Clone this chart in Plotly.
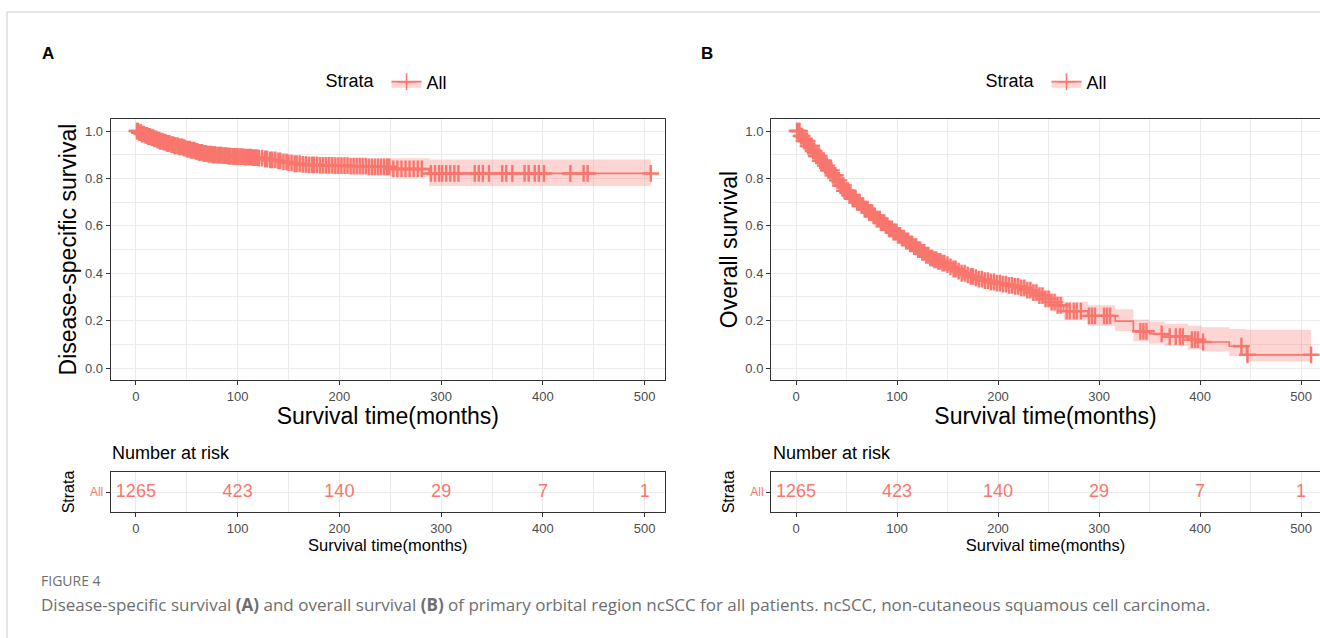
import numpy as np
import plotly.graph_objects as go

RED = "#F8766D"
PINK = "rgba(248,118,109,0.30)"
FONT = "Liberation Sans"

# ---------------- Panel A: disease-specific survival ----------------
dss_time = [0, 3, 6, 9, 12, 15, 18, 21, 24, 27, 30, 34, 38, 42, 46, 50, 54, 58, 62, 66, 70, 75, 80, 85, 90, 95,
            100, 107, 114, 120, 126, 132, 138, 144, 150, 156, 162, 168, 180, 194, 210, 227, 250, 288, 506]
dss_surv = [1.0, 0.993, 0.987, 0.982, 0.977, 0.972, 0.967, 0.962, 0.957, 0.953, 0.948, 0.943, 0.938, 0.933, 0.929,
            0.924, 0.919, 0.914, 0.91, 0.906, 0.903, 0.9, 0.898, 0.896, 0.894, 0.893, 0.892, 0.89, 0.888, 0.886,
            0.882, 0.878, 0.874, 0.87, 0.866, 0.862, 0.859, 0.857, 0.855, 0.854, 0.852, 0.849, 0.84, 0.821, 0.821]
dss_upper = [1.0, 0.998, 0.994, 0.99, 0.986, 0.982, 0.978, 0.974, 0.97, 0.966, 0.962, 0.958, 0.953, 0.949, 0.945,
             0.941, 0.936, 0.932, 0.928, 0.925, 0.922, 0.92, 0.918, 0.917, 0.916, 0.915, 0.914, 0.913, 0.912, 0.91,
             0.907, 0.904, 0.901, 0.898, 0.895, 0.892, 0.89, 0.889, 0.888, 0.887, 0.886, 0.884, 0.885, 0.88, 0.88]
dss_lower = [1.0, 0.988, 0.98, 0.974, 0.968, 0.962, 0.956, 0.95, 0.944, 0.94, 0.934, 0.928, 0.923, 0.917, 0.913,
             0.907, 0.902, 0.896, 0.892, 0.887, 0.884, 0.88, 0.878, 0.875, 0.872, 0.871, 0.87, 0.867, 0.864, 0.862,
             0.857, 0.852, 0.847, 0.842, 0.837, 0.832, 0.828, 0.825, 0.822, 0.82, 0.818, 0.814, 0.805, 0.768, 0.768]
dss_censor = [1, 2, 3.5, 5, 6, 8, 9.5, 11, 12, 14, 15.5, 17, 18, 20, 21.5, 23, 24, 26, 27.5, 29, 30.5, 32, 33, 35,
              36.5, 38, 39, 41, 42.5, 44, 45.5, 47, 48, 50, 51.5, 53, 54, 56, 57.5, 59, 60.5, 62, 63, 65, 66.5, 68,
              69, 71, 72.5, 74, 75.5, 77, 78, 80, 81.5, 83, 84, 86, 87.5, 89, 90.5, 92, 93, 95, 96.5, 98, 99.5, 101,
              103, 105, 107, 109, 111, 113, 115, 117, 119, 121, 124, 127, 129, 132, 134, 137, 140, 142, 145, 148,
              150, 153, 156, 158, 161, 164, 167, 170, 173, 175, 178, 181, 184, 187, 190, 193, 196, 199, 202, 205,
              208, 211, 214, 217, 220, 223, 226, 229, 232, 235, 238, 241, 244, 247, 249,
              253, 257, 261, 265, 269, 273, 277, 281, 290, 294, 298, 301, 305, 309, 313, 317, 333, 337, 341, 347,
              360, 364, 370, 382, 386, 392, 396, 401, 427, 440, 444, 506]

# ---------------- Panel B: overall survival ----------------
os_time = [0, 4, 8, 12, 16, 20, 24, 28, 32, 36, 40, 44, 48, 52, 56, 60, 64, 68, 72, 76, 80, 84, 88, 92, 96, 100,
           104, 108, 112, 116, 120, 124, 128, 132, 136, 140, 144, 148, 152, 156, 160, 164, 168, 172, 176, 180, 186,
           192, 198, 204, 210, 216, 222, 228, 234, 240, 246, 252, 258, 265, 289, 316, 334, 350, 365, 388, 402, 429,
           446, 510]
os_surv = [1.0, 0.979, 0.958, 0.937, 0.916, 0.895, 0.875, 0.854, 0.834, 0.813,
           0.792, 0.77, 0.748, 0.729, 0.714, 0.7, 0.685, 0.67, 0.656, 0.642,
           0.628, 0.614, 0.601, 0.587, 0.574, 0.56, 0.548, 0.536, 0.524, 0.512,
           0.5, 0.488, 0.476, 0.464, 0.457, 0.45, 0.443, 0.436, 0.427, 0.418,
           0.409, 0.4, 0.393, 0.387, 0.381, 0.375, 0.369, 0.363, 0.358, 0.354,
           0.349, 0.345, 0.338, 0.329, 0.318, 0.306, 0.292, 0.278, 0.265, 0.24,
           0.22, 0.198, 0.155, 0.144, 0.133, 0.12, 0.11, 0.092, 0.056, 0.056]
os_upper = [1.0, 0.987, 0.969, 0.95, 0.931, 0.911, 0.892, 0.872, 0.852, 0.832,
            0.812, 0.79, 0.769, 0.75, 0.735, 0.721, 0.707, 0.692, 0.678, 0.665,
            0.651, 0.637, 0.624, 0.611, 0.598, 0.585, 0.573, 0.561, 0.549, 0.538,
            0.526, 0.514, 0.502, 0.491, 0.484, 0.477, 0.47, 0.463, 0.454, 0.446,
            0.437, 0.428, 0.421, 0.415, 0.41, 0.404, 0.398, 0.393, 0.388, 0.384,
            0.38, 0.376, 0.37, 0.361, 0.351, 0.34, 0.327, 0.313, 0.301, 0.28,
            0.265, 0.248, 0.205, 0.196, 0.187, 0.178, 0.172, 0.165, 0.162, 0.162]
os_lower = [1.0, 0.971, 0.947, 0.924, 0.901, 0.879, 0.858, 0.836, 0.816, 0.794,
            0.772, 0.75, 0.727, 0.708, 0.693, 0.679, 0.663, 0.648, 0.634, 0.619,
            0.605, 0.591, 0.578, 0.563, 0.55, 0.535, 0.523, 0.511, 0.499, 0.486,
            0.474, 0.462, 0.45, 0.437, 0.43, 0.423, 0.416, 0.409, 0.4, 0.39,
            0.381, 0.372, 0.365, 0.359, 0.352, 0.346, 0.34, 0.333, 0.328, 0.324,
            0.318, 0.314, 0.306, 0.297, 0.285, 0.272, 0.257, 0.243, 0.229, 0.203,
            0.178, 0.155, 0.113, 0.103, 0.093, 0.078, 0.07, 0.05, 0.028, 0.028]
os_censor = [1, 2, 3.5, 5, 6, 8, 9.5, 11, 12, 14, 15.5, 17, 18, 20, 21.5, 23, 24, 26, 27.5, 29, 30.5, 32, 33, 35,
             36.5, 38, 39, 41, 42.5, 44, 45.5, 47, 48, 50, 51.5, 53, 54, 56, 57.5, 59, 60.5, 62, 63, 65, 66.5, 68,
             69, 71, 72.5, 74, 75.5, 77, 78, 80, 81.5, 83, 84, 86, 87.5, 89, 90.5, 92, 93, 95, 96.5, 98, 99.5, 101,
             103, 105, 107, 109, 111, 113, 115, 117, 119, 121, 123, 125, 127, 129, 131, 133, 135, 137, 139, 141,
             143, 145, 147, 150, 153, 156, 158, 161, 164, 167, 170, 173, 175, 178, 181, 184, 187, 190, 193, 196,
             199, 202, 205, 208, 211, 214, 217, 220, 223, 226, 229, 232, 235, 238, 241, 244, 247, 250, 253, 256,
             259, 262, 268, 271, 275, 278, 282, 290, 293, 296, 305, 308, 311, 341, 344, 347, 362, 370, 376, 380,
             383, 392, 395, 398, 403, 441, 447, 510]

# ---------------- Risk tables ----------------
risk_times = [0, 100, 200, 300, 400, 500]
dss_risk = [1265, 423, 140, 29, 7, 1]
os_risk = [1265, 423, 140, 29, 7, 1]

x_ticks = [0, 100, 200, 300, 400, 500]
y_ticks = [0.0, 0.2, 0.4, 0.6, 0.8, 1.0]


def step_value(times, surv, t):
    idx = np.searchsorted(np.array(times), np.array(t), side="right") - 1
    return np.array(surv)[idx]


W, H = 1320, 638


def px(x):
    return x / W


def py(y):
    return 1 - y / H


fig = go.Figure()


def add_km(times, surv, upper, lower, censor, xa, ya, leg):
    fig.add_trace(go.Scatter(x=times, y=lower, mode="lines", line=dict(width=0, shape="hv", color=RED),
                             showlegend=False, hoverinfo="skip", xaxis=xa, yaxis=ya))
    fig.add_trace(go.Scatter(x=times, y=upper, mode="lines", line=dict(width=0, shape="hv", color=RED),
                             fill="tonexty", fillcolor=PINK, showlegend=False, hoverinfo="skip",
                             xaxis=xa, yaxis=ya))
    fig.add_trace(go.Scatter(x=times, y=surv, mode="lines", line=dict(width=1.7, shape="hv", color=RED),
                             showlegend=False, xaxis=xa, yaxis=ya))
    fig.add_trace(go.Scatter(x=censor, y=step_value(times, surv, censor), mode="markers",
                             marker=dict(symbol="cross-thin", size=12, color=RED, line=dict(width=2.4, color=RED)),
                             showlegend=False, xaxis=xa, yaxis=ya))
    # legend entry
    fig.add_trace(go.Scatter(x=[None], y=[None], mode="lines+markers", name="All",
                             line=dict(width=1.7, color=RED), fill="toself", fillcolor=PINK,
                             marker=dict(symbol="cross-thin", size=12, color=RED, line=dict(width=1.5, color=RED)),
                             showlegend=True, legend=leg, xaxis=xa, yaxis=ya))


add_km(dss_time, dss_surv, dss_upper, dss_lower, dss_censor, "x", "y", "legend")
add_km(os_time, os_surv, os_upper, os_lower, os_censor, "x2", "y2", "legend2")

fig.add_trace(go.Scatter(x=risk_times, y=[1] * len(risk_times), mode="text", text=[str(v) for v in dss_risk],
                         textfont=dict(size=18, color=RED, family=FONT), showlegend=False, xaxis="x3", yaxis="y3"))
fig.add_trace(go.Scatter(x=risk_times, y=[1] * len(risk_times), mode="text", text=[str(v) for v in os_risk],
                         textfont=dict(size=18, color=RED, family=FONT), showlegend=False, xaxis="x4", yaxis="y4"))

GRID = "#EBEBEB"
LINE = "#333333"
TICKF = dict(size=13, color="#4D4D4D", family=FONT)

A_dom = [px(110.7), px(665)]
B_dom = [px(771), 1.0]
main_y_dom = [py(379.9), py(119.2)]
risk_y_dom = [py(512), py(472)]
A_range = [-24.75, 520]
B_range = [-24.75, 518.8]


def xaxis(dom, rng, anchor, title, tsize, standoff):
    return dict(domain=dom, range=rng, anchor=anchor, tickvals=x_ticks, ticks="outside", ticklen=4,
                tickcolor=LINE, tickfont=TICKF, showgrid=True, gridcolor=GRID, gridwidth=1.2,
                minor=dict(dtick=50, tick0=0, showgrid=True, gridcolor=GRID, gridwidth=0.7),
                showline=True, mirror=True, linecolor=LINE, linewidth=1, zeroline=False,
                title=dict(text=title, font=dict(size=tsize, color="black", family=FONT), standoff=standoff))


def yaxis_main(anchor, title):
    return dict(domain=main_y_dom, range=[-0.05, 1.05], anchor=anchor, tickvals=y_ticks, tickformat=".1f",
                ticks="outside", ticklen=4, tickcolor=LINE, tickfont=TICKF, showgrid=True, gridcolor=GRID,
                gridwidth=1.2, minor=dict(dtick=0.1, tick0=0, showgrid=True, gridcolor=GRID, gridwidth=0.7),
                showline=True, mirror=True, linecolor=LINE, linewidth=1, zeroline=False,
                title=dict(text=title, font=dict(size=23, color="black", family=FONT), standoff=1))


def yaxis_risk(anchor):
    return dict(domain=risk_y_dom, range=[0.5, 1.5], anchor=anchor, tickvals=[1], ticktext=["All"],
                ticks="outside", ticklen=4, tickcolor=LINE, tickfont=dict(size=12, color=RED, family=FONT),
                showgrid=True, gridcolor=GRID, gridwidth=1.2, showline=True, mirror=True, linecolor=LINE,
                linewidth=1, zeroline=False,
                title=dict(text="Strata", font=dict(size=16, color="black", family=FONT), standoff=11))


legend_common = dict(orientation="h", yanchor="middle", xanchor="center", itemwidth=30,
                     bgcolor="rgba(0,0,0,0)", font=dict(size=18, color="black", family=FONT),
                     title=dict(text="Strata ", side="left", font=dict(size=18, color="black", family=FONT)))

fig.update_layout(
    width=W, height=H, margin=dict(l=0, r=0, t=0, b=0), paper_bgcolor="white", plot_bgcolor="white",
    font=dict(family=FONT),
    xaxis=xaxis(A_dom, A_range, "y", "Survival time(months)", 23, 4),
    yaxis=yaxis_main("x", "Disease-specific survival"),
    xaxis2=xaxis(B_dom, B_range, "y2", "Survival time(months)", 23, 4),
    yaxis2=yaxis_main("x2", "Overall survival"),
    xaxis3=xaxis(A_dom, A_range, "y3", "Survival time(months)", 16.5, 2),
    yaxis3=yaxis_risk("x3"),
    xaxis4=xaxis(B_dom, B_range, "y4", "Survival time(months)", 16.5, 2),
    yaxis4=yaxis_risk("x4"),
    legend=dict(x=px(388), y=py(82), **legend_common),
    legend2=dict(x=px(1048), y=py(82), **legend_common),
    showlegend=True,
)

# outer frame
fig.add_shape(type="rect", xref="paper", yref="paper", x0=px(7), x1=1.02, y0=-0.05, y1=py(12),
              line=dict(color="#CCCCCC", width=1), fillcolor="rgba(0,0,0,0)", layer="below")

ann = []
ann.append(dict(text="<b>A</b>", x=px(40), y=py(53), xanchor="left", yanchor="middle",
                font=dict(size=17, color="black", family=FONT)))
ann.append(dict(text="<b>B</b>", x=px(699), y=py(53), xanchor="left", yanchor="middle",
                font=dict(size=17, color="black", family=FONT)))
ann.append(dict(text="Number at risk", x=px(110), y=py(453), xanchor="left", yanchor="middle",
                font=dict(size=18, color="black", family=FONT)))
ann.append(dict(text="Number at risk", x=px(771), y=py(453), xanchor="left", yanchor="middle",
                font=dict(size=18, color="black", family=FONT)))
ann.append(dict(text="FIGURE 4", x=px(39), y=py(580), xanchor="left", yanchor="middle",
                font=dict(size=14, color="#6E6E6E", family="Open Sans")))
ann.append(dict(text="Disease-specific survival <b>(A)</b> and overall survival <b>(B)</b> of primary orbital "
                     "region ncSCC for all patients. ncSCC, non-cutaneous squamous cell carcinoma.",
                x=px(39), y=py(604), xanchor="left", yanchor="middle",
                font=dict(size=17, color="#6E6E6E", family="Open Sans")))
for a in ann:
    a.update(xref="paper", yref="paper", showarrow=False)
fig.update_layout(annotations=ann)

fig.write_html("out.html")
